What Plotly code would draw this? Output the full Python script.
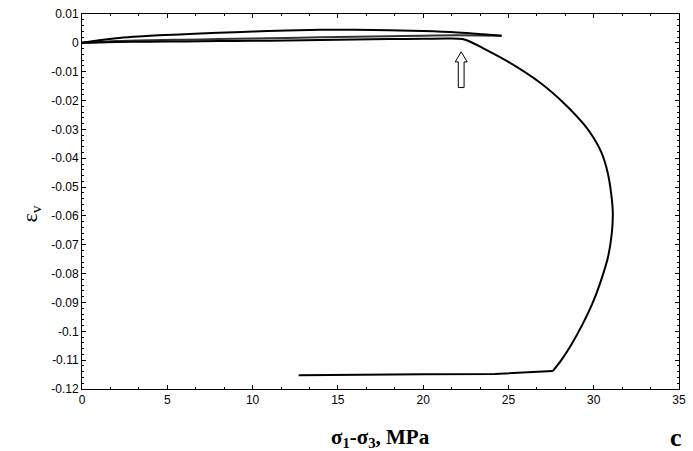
import plotly.graph_objects as go

# Loading branch (first cycle)
load_x = [0, 1, 2, 4, 6, 8, 10, 12, 14, 16, 18, 20, 22, 24.6]
load_y = [0, 0.0003, 0.0006, 0.0009, 0.0011, 0.0013, 0.0015, 0.0017, 0.0019, 0.0021, 0.0023, 0.0025, 0.0026, 0.0025]

# Unloading branch (upper curve)
unload_x = [24.6, 23.5, 22, 20, 18, 16, 14, 12, 10, 8, 6, 4, 3, 2, 1, 0]
unload_y = [0.0025, 0.0030, 0.0036, 0.0041, 0.0044, 0.0045, 0.0045, 0.0043, 0.0039, 0.0035, 0.0030, 0.0025, 0.0021, 0.0016, 0.0009, 0]

# Reloading to failure and post-peak branch
fail_x = [0, 2, 4, 6, 8, 10, 12, 14, 16, 18, 20, 21.5, 22.3, 22.8, 23.5, 25.0, 26.9, 28.27,
          29.43, 30.0, 30.45, 30.82, 31.03, 31.12, 31.06, 30.85, 30.45, 29.95, 29.35, 28.65, 28.1, 27.6]
fail_y = [0, 0.0003, 0.0004, 0.0005, 0.0006, 0.0007, 0.0008, 0.0010, 0.0012, 0.0013, 0.0014,
          0.0015, 0.0013, 0.0003, -0.0018, -0.0066, -0.0140, -0.0210,
          -0.0283, -0.0330, -0.0380, -0.0450, -0.0525, -0.0590, -0.0660, -0.0740, -0.0820,
          -0.0900, -0.0975, -0.1050, -0.1100, -0.1138]

# Residual branch
resid_x = [27.6, 24.2, 20, 12.7]
resid_y = [-0.1138, -0.1148, -0.1149, -0.1152]

x_ticks = [0, 5, 10, 15, 20, 25, 30, 35]
y_ticks = [0.01, 0, -0.01, -0.02, -0.03, -0.04, -0.05, -0.06, -0.07, -0.08, -0.09, -0.1, -0.11, -0.12]
y_tick_text = ["0.01", "0", "-0.01", "-0.02", "-0.03", "-0.04", "-0.05", "-0.06", "-0.07",
               "-0.08", "-0.09", "-0.1", "-0.11", "-0.12"]

# Arrow marking onset of dilatancy
arrow_x = 22.23
arrow_tip_y = -0.0031
arrow_head_y = -0.0066
arrow_base_y = -0.0155
arrow_head_hw = 0.35
arrow_shaft_hw = 0.17

line_style = dict(color="black", width=2)

fig = go.Figure()
fig.add_trace(go.Scatter(x=load_x, y=load_y, mode="lines", line=dict(color="#333333", width=2, shape="spline"),
                         hoverinfo="skip"))
fig.add_trace(go.Scatter(x=unload_x, y=unload_y, mode="lines", line=dict(color="black", width=2, shape="spline"),
                         hoverinfo="skip"))
fig.add_trace(go.Scatter(x=fail_x, y=fail_y, mode="lines",
                         line=dict(color="black", width=2, shape="spline", smoothing=0.8), hoverinfo="skip"))
fig.add_trace(go.Scatter(x=resid_x, y=resid_y, mode="lines", line=line_style, hoverinfo="skip"))

ax = [arrow_x - arrow_shaft_hw, arrow_x - arrow_shaft_hw, arrow_x - arrow_head_hw, arrow_x,
      arrow_x + arrow_head_hw, arrow_x + arrow_shaft_hw, arrow_x + arrow_shaft_hw, arrow_x - arrow_shaft_hw]
ay = [arrow_base_y, arrow_head_y, arrow_head_y, arrow_tip_y, arrow_head_y, arrow_head_y, arrow_base_y, arrow_base_y]
fig.add_trace(go.Scatter(x=ax, y=ay, mode="lines", fill="toself", fillcolor="white",
                         line=dict(color="black", width=1), hoverinfo="skip"))

tick_font = dict(family="Liberation Sans, Arial", size=12, color="black")

fig.update_layout(
    width=693, height=451,
    margin=dict(l=82, r=7, t=12, b=62),
    paper_bgcolor="white", plot_bgcolor="white",
    showlegend=False,
    xaxis=dict(range=[0, 35], tickvals=x_ticks, ticks="inside", ticklen=4, tickcolor="black",
               showline=True, linecolor="black", linewidth=1, mirror="allticks",
               showgrid=False, zeroline=False, tickfont=tick_font,
               minor=dict(ticks="inside", dtick=5/3, ticklen=2, tickcolor="black", showgrid=False)),
    yaxis=dict(range=[-0.12, 0.01], tickvals=y_ticks, ticktext=y_tick_text, ticks="inside", ticklen=4,
               tickcolor="black", showline=True, linecolor="black", linewidth=1, mirror="allticks",
               showgrid=False, zeroline=False, tickfont=tick_font,
               minor=dict(ticks="inside", dtick=0.002, ticklen=2, tickcolor="black", showgrid=False)),
    annotations=[
        dict(text="<b>σ<sub>1</sub>-σ<sub>3</sub>, MPa</b>", xref="paper", yref="paper", x=0.5, y=-0.13,
             showarrow=False, font=dict(family="Liberation Serif, Times New Roman", size=21, color="black"),
             xanchor="center", yanchor="middle"),
        dict(text="<b>c</b>", xref="paper", yref="paper", x=0.995, y=-0.13,
             showarrow=False, font=dict(family="Liberation Serif, Times New Roman", size=26, color="black"),
             xanchor="center", yanchor="middle"),
        dict(text="ε<sub>v</sub>", xref="paper", yref="paper", x=-0.086, y=0.467, textangle=-90,
             showarrow=False, font=dict(family="Liberation Serif, Times New Roman", size=22, color="black"),
             xanchor="center", yanchor="middle"),
    ],
)

fig.write_html("out.html")
